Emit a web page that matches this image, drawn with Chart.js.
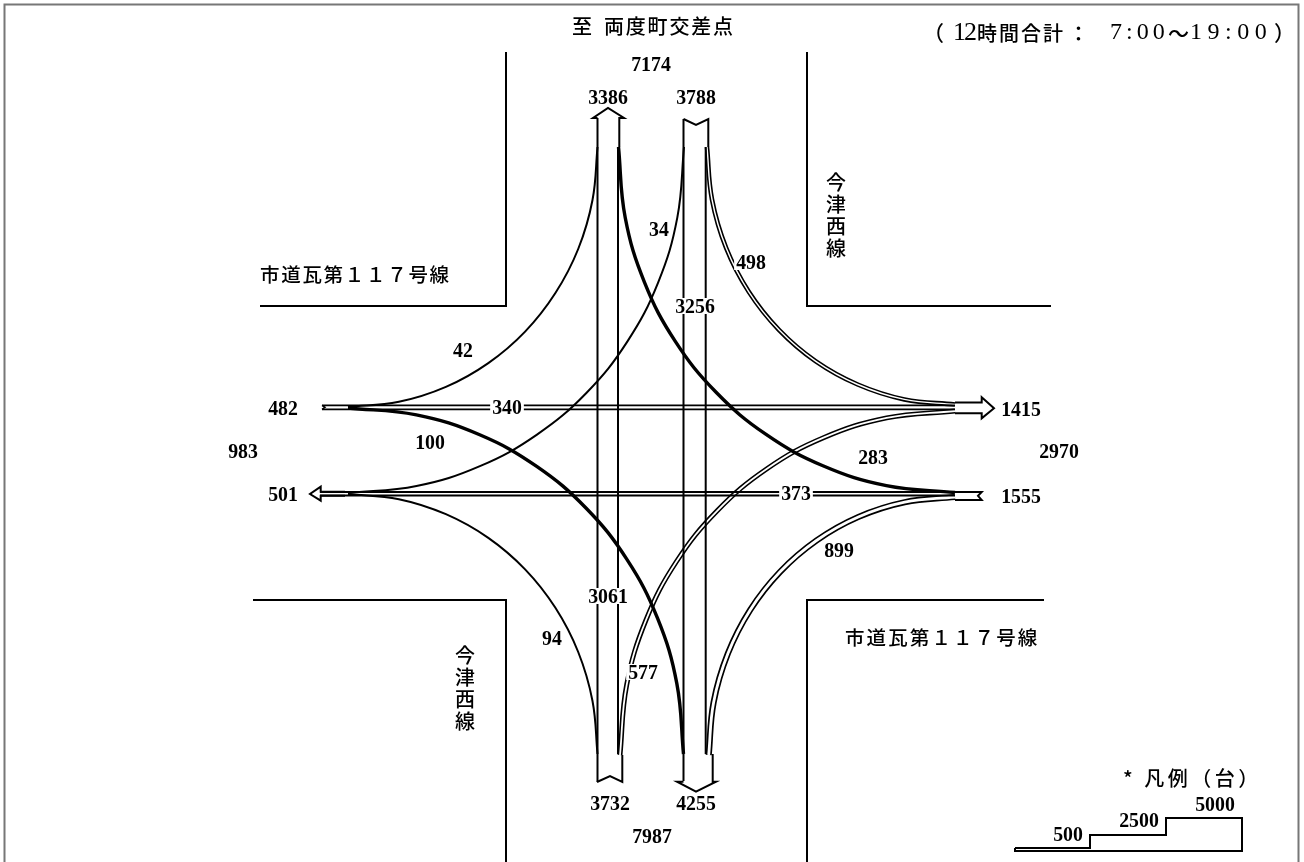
<!DOCTYPE html>
<html lang="ja"><head><meta charset="utf-8">
<style>html,body{margin:0;padding:0;background:#fff}canvas{display:block}</style>
<script src="https://cdn.jsdelivr.net/npm/chart.js@4"></script></head>
<body><canvas id="c" width="1304" height="862"></canvas>
<script>
// --- read-off volumes (vehicles, 12 h) ---
const volumeLabels = ['7174','3386','3788','34','498','3256','42','482','340','1415','100','983','2970','283','501','373','1555','899','3061','94','577','3732','4255','7987'];
const volumeAnchors = [[651,64],[608,97],[696,97],[659,229],[751,262],[695,306],[463,350],[283,408],[507,407],[1021,409],[430,442],[243,451],[1059,451],[873,457],[283,494],[796,493],[1021,496],[839,550],[608,596],[552,638],[643,672],[610,803],[696,803],[652,836]];
const legendLabels = ['500','2500','5000'];
const legendAnchors = [[1068,834],[1139,820],[1215,804]];

// --- curved movement paths ---
const turn42  = [[597.5,147],[592.5,200],[578.2,249],[555.4,293],[525.1,331.6],[488.3,363.1],[445.9,386.9],[398.9,401.8],[348,407]];
const turn283 = [[618.5,147],[625.2,217.5],[644.6,282.6],[675.3,341.4],[716.1,392.3],[765.7,434.2],[822.9,465.7],[886.4,485.6],[955,492.5]];
const turn34  = [[684,147],[677.3,217.6],[658,282.8],[627.3,341.6],[586.6,392.7],[537,434.6],[479.9,466.2],[416.5,486.1],[348,493]];
const turn498 = [[707,147],[712,199.5],[726.2,248.1],[748.8,291.8],[778.9,329.8],[815.5,361.1],[857.7,384.5],[904.4,399.4],[955,404.5]];
const turn100 = [[683.5,754],[676.8,683.4],[657.5,618.2],[626.9,559.4],[586.2,508.3],[536.7,466.4],[479.7,434.8],[416.4,414.9],[348,408]];
const turn94  = [[597.5,754],[592.5,701],[578.2,652],[555.4,607.8],[525.1,569.4],[488.3,537.9],[445.9,514.2],[398.9,499.2],[348,494]];
const turn577 = [[620,755],[626.7,684.8],[646,620],[676.5,561.5],[717.2,510.8],[766.6,469],[823.5,437.7],[886.7,417.9],[955,411]];
const turn899 = [[708.7,755],[713.6,702.4],[727.8,653.7],[750.2,609.9],[780.1,571.8],[816.5,540.5],[858.3,517],[904.7,502.2],[955,497]];

// --- straight movement paths and outlines ---
const through3061L = [[597.5,118],[597.5,782]];
const through3061R = [[618,147],[618,754]];
const through3256L = [[683.5,119],[683.5,781]];
const through3256R = [[705.7,147],[705.7,754]];
const through340A = [[322,405.3],[955,405.3]];
const through340B = [[322,409.3],[955,409.3]];
const through373A = [[320,492],[955,492]];
const through373B = [[320,495.5],[955,495.5]];
const headNorth = [[597.5,118],[593,118],[608,108],[624,118],[619.3,118],[619.3,147]];
const tailNorth = [[683.5,119],[696,125],[708.3,119],[708.3,147]];
const headSouth = [[712.7,754],[712.7,781.7],[716,781.7],[696,791.7],[677,781.7],[683.5,781.7]];
const tailSouth = [[597,782],[610,776],[622.3,782],[622.3,755]];
const headEast = [[955,402.5],[981.7,402.5],[981.7,397.3],[994,408.3],[981.7,418.3],[981.7,413.3],[955,413.3]];
const tailEast = [[955,492],[981.7,492],[978,495.8],[981.7,500],[955,500]];
const headWest = [[345,491.7],[320.7,491.7],[320.7,486.7],[310,494],[320.7,500.7],[320.7,495.7],[345,495.7]];
const tailWest = [[322,405.3],[325,407.3],[322,409.3]];

// --- scenery ---
const roadNW = [[506,52],[506,306],[260,306]];
const roadNE = [[807,52],[807,306],[1051,306]];
const roadSW = [[253,600],[506,600],[506,862]];
const roadSE = [[807,862],[807,600],[1044,600]];
const frame = [[4.5,862],[4.5,4.5],[1298.5,4.5],[1298.5,862]];
const legendStep = [[1015,848],[1090,848],[1090,835],[1166,835],[1166,818],[1242,818],[1242,851],[1015,851],[1015,848]];

// --- captions ---
const titleHead = '至';
const titleText = '両度町交差点';
const roadName = '市道瓦第１１７号線';
const sideRoad = '今津西線';
const legendTitle = '* 凡例（台）';

const CJK = '"Noto Sans CJK JP"';
const SER = '"Liberation Serif"';

function ds(points, width, tension, color){
  return {data: points.map(p=>({x:p[0],y:p[1]})), borderColor: color||'#000', borderWidth: width,
    tension: tension||0, pointRadius:0, fill:false, showLine:true, borderCapStyle:'butt', borderJoinStyle:'miter', clip:false};
}
// doubled movements: black casing with a white core, under everything else
const layers = [
  ds(frame,2,0,'#777'),
  ds(roadNW,2),ds(roadNE,2),ds(roadSW,2),ds(roadSE,2),
  ds(turn498,4.6,.4), ds(turn498,1.4,.4,'#fff'),
  ds(turn577,5,.4), ds(turn577,1.8,.4,'#fff'),
  ds(turn899,6.2,.4), ds(turn899,2.8,.4,'#fff'),
  ds(through3061L,2),ds(through3061R,2),ds(through3256L,2),ds(through3256R,2),
  ds(through340A,1.8),ds(through340B,1.8),ds(through373A,1.8),ds(through373B,1.8),
  ds(turn42,2,.4),ds(turn34,2,.4),ds(turn94,2,.4),
  ds(turn283,3.4,.4),ds(turn100,3.4,.4),
  ds(headNorth,2),ds(tailNorth,2),ds(headSouth,2),ds(tailSouth,2),
  ds(headEast,2),ds(tailEast,2),ds(headWest,2),ds(tailWest,1.5),
  ds(legendStep,2)
];
layers.forEach((d,i)=>{d.order = layers.length-i;});

const textPlugin = {
  id:'texts',
  afterDatasetsDraw(chart){
    const c=chart.ctx, X=chart.scales.x, Y=chart.scales.y;
    const put=(t,x,y,font,ls)=>{
      c.font=font; c.letterSpacing=(ls||0)+'px'; c.fillStyle='#000';
      c.textAlign='left'; c.textBaseline='middle';
      c.fillText(t,X.getPixelForValue(x),Y.getPixelForValue(y));
    };
    const num=(t,p)=>{
      c.save();
      c.font='bold 22px '+SER; c.letterSpacing='0px';
      const w=c.measureText(t).width*0.9, px=X.getPixelForValue(p[0]), py=Y.getPixelForValue(p[1]);
      c.fillStyle='#fff'; c.fillRect(px-w/2-2,py-8,w+4,16);
      c.translate(px,py+1); c.scale(0.9,1);
      c.fillStyle='#000'; c.textAlign='center'; c.textBaseline='middle';
      c.fillText(t,0,0);
      c.restore();
    };
    volumeLabels.forEach((t,i)=>num(t,volumeAnchors[i]));
    legendLabels.forEach((t,i)=>num(t,legendAnchors[i]));
    c.save();
    const f=(s)=>'500 '+s+'px '+CJK;
    put(titleHead,572,26,f(20));
    put(titleText,604,26,f(20),1.8);
    put('（',923,33,f(21));
    put('12',953,33,'26px '+SER,-2);
    put('時間合計',977,33,f(20),2);
    put('：',1068,33,f(21));
    put('7:00',1110,33,'24px '+SER,4);
    put('～',1168,33,f(21));
    put('19:00',1190,33,'24px '+SER,5.5);
    put('）',1274,33,f(21));
    put(roadName,260,275,f(19.5),1.7);
    put(roadName,845,638,f(19.5),2.1);
    put(legendTitle,1123,778,f(20),3.5);
    [...sideRoad].forEach((ch,i)=>{
      put(ch,826,182+i*22,f(20));
      put(ch,455,655+i*22,f(20));
    });
    c.restore();
  }
};

new Chart(document.getElementById('c'),{
  type:'scatter',
  data:{datasets:layers},
  options:{
    responsive:false, animation:false, events:[],
    layout:{padding:0},
    plugins:{legend:{display:false},tooltip:{enabled:false},title:{display:false}},
    scales:{
      x:{type:'linear',min:0,max:1304,display:false},
      y:{type:'linear',min:0,max:862,reverse:true,display:false}
    }
  },
  plugins:[textPlugin]
});
</script></body></html>
